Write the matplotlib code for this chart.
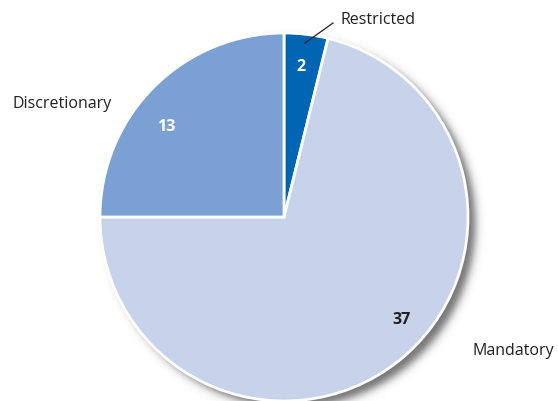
import numpy as np
import matplotlib.pyplot as plt

labels = ["Restricted", "Mandatory", "Discretionary"]
values = [2, 37, 13]
colors = ["#0066b3", "#c6d3eb", "#7ba0d4"]
value_colors = ["white", "#231f20", "white"]

plt.rcParams["font.family"] = ["Open Sans", "DejaVu Sans"]

fig = plt.figure(figsize=(5.58, 4.01), dpi=100)
ax = fig.add_axes([0, 0, 1, 1])
ax.set_xlim(0, 558)
ax.set_ylim(0, 401)
ax.set_aspect("equal")
ax.axis("off")

cx, cy, r = 284, 184, 184

# soft drop shadow to the lower right
xx, yy = np.meshgrid(np.arange(0, 558, 1.0), np.arange(0, 401, 1.0))
d = np.hypot(xx - (cx + 7), yy - (cy - 7)) - r
alpha = 0.55 * 0.5 * (1 - np.tanh(d / 5.0))
shadow = np.zeros(xx.shape + (4,))
shadow[..., 3] = alpha
ax.imshow(shadow, extent=(0, 558, 0, 401), origin="lower", zorder=0, interpolation="bilinear")

wedges, _ = ax.pie(values, colors=colors, startangle=90, counterclock=False,
                   center=(cx, cy), radius=r, frame=True,
                   wedgeprops=dict(edgecolor="white", linewidth=2))
for w in wedges:
    w.set_zorder(2)
ax.set_xlim(0, 558)
ax.set_ylim(0, 401)
ax.axis("off")

# values inside the slices
value_pos = [(301, 334), (402, 81), (166, 274)]
for v, (x, y), c in zip(values, value_pos, value_colors):
    ax.text(x, y, str(v), ha="center", va="center", fontsize=11.5,
            fontweight="bold", color=c, zorder=3)

# category labels
ax.text(340, 381, labels[0], ha="left", va="center", fontsize=11.5, color="#231f20", zorder=3)
ax.plot([333, 305], [378, 358], color="#231f20", lw=0.9, zorder=3)
ax.text(472, 50, labels[1], ha="left", va="center", fontsize=11.5, color="#231f20", zorder=3)
ax.text(12, 297, labels[2], ha="left", va="center", fontsize=11.5, color="#231f20", zorder=3)

fig.savefig("out.png", dpi=100)
